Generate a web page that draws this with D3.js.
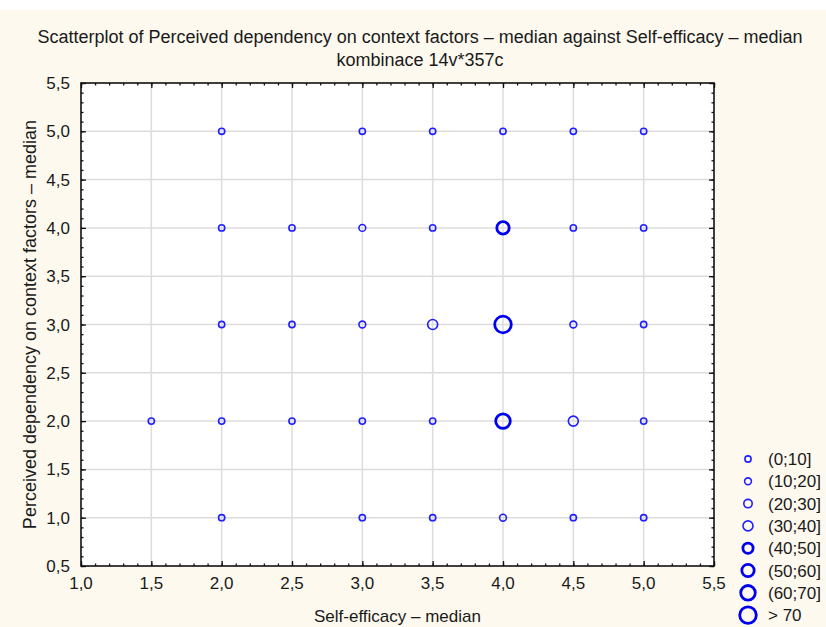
<!DOCTYPE html>
<html>
<head>
<meta charset="utf-8">
<script src="https://cdn.jsdelivr.net/npm/d3@7"></script>
<style>
  body { margin: 0; background: #fff; }
  text { font-family: "Liberation Sans", Arial, sans-serif; fill: #1a1a1a; }
</style>
</head>
<body>
<div id="chart"></div>
<script>
// data: one point per (self-efficacy, dependency) combination, with count
var selfEff = [2, 3, 3.5, 4, 4.5, 5,
               2, 2.5, 3, 3.5, 4, 4.5, 5,
               2, 2.5, 3, 3.5, 4, 4.5, 5,
               1.5, 2, 2.5, 3, 3.5, 4, 4.5, 5,
               2, 3, 3.5, 4, 4.5, 5];
var dependency = [5, 5, 5, 5, 5, 5,
                  4, 4, 4, 4, 4, 4, 4,
                  3, 3, 3, 3, 3, 3, 3,
                  2, 2, 2, 2, 2, 2, 2, 2,
                  1, 1, 1, 1, 1, 1];
var counts = [1, 2, 2, 3, 2, 2,
              2, 1, 12, 3, 53, 4, 2,
              2, 2, 13, 33, 74, 15, 3,
              1, 2, 1, 3, 2, 64, 34, 2,
              1, 1, 1, 12, 1, 1];
var legendLabels = ["(0;10]", "(10;20]", "(20;30]", "(30;40]", "(40;50]", "(50;60]", "(60;70]", "> 70"];
var xTicks = [1, 1.5, 2, 2.5, 3, 3.5, 4, 4.5, 5, 5.5];
var yTicks = [0.5, 1, 1.5, 2, 2.5, 3, 3.5, 4, 4.5, 5, 5.5];

var svgWidth = 826;
var svgHeight = 627;
var margin = { top: 83, right: 112, bottom: 61, left: 81 };
var width = svgWidth - margin.left - margin.right;
var height = svgHeight - margin.top - margin.bottom;

var svg = d3.select("#chart").append("svg")
  .attr("width", svgWidth)
  .attr("height", svgHeight);

// cream background below a thin white strip
svg.append("rect")
  .attr("x", 0).attr("y", 10)
  .attr("width", svgWidth).attr("height", svgHeight - 10)
  .attr("fill", "#fdf9ee");

var chartGroup = svg.append("g")
  .attr("transform", `translate(${margin.left}, ${margin.top})`);

var x = d3.scaleLinear().domain([1, 5.5]).range([0, width]);
var y = d3.scaleLinear().domain([0.5, 5.5]).range([height, 0]);

chartGroup.append("rect")
  .attr("width", width).attr("height", height)
  .attr("fill", "#fff");

// grid
chartGroup.selectAll(".vgrid").data(xTicks.slice(1, -1)).enter()
  .append("line")
  .attr("x1", d => x(d)).attr("x2", d => x(d))
  .attr("y1", 0).attr("y2", height)
  .attr("stroke", "#dcdcdc").attr("stroke-width", 1.5);
chartGroup.selectAll(".hgrid").data(yTicks.slice(1, -1)).enter()
  .append("line")
  .attr("y1", d => y(d)).attr("y2", d => y(d))
  .attr("x1", 0).attr("x2", width)
  .attr("stroke", "#dcdcdc").attr("stroke-width", 1.5);

// axes with ticks pointing inward
var minorX = d3.range(10, 56).map(d => d / 10);
var minorY = d3.range(5, 56).map(d => d / 10);

function tickAxis(axisFn, scale, vals, len, pos) {
  var g = chartGroup.append("g").attr("transform", pos)
    .call(axisFn(scale).tickValues(vals).tickSize(-len).tickFormat(""));
  g.select(".domain").remove();
  g.selectAll("line").attr("stroke", "#111").attr("stroke-width", 1.3);
  return g;
}
tickAxis(d3.axisBottom, x, minorX, 2.5, `translate(0,${height})`);
tickAxis(d3.axisBottom, x, xTicks, 5, `translate(0,${height})`);
tickAxis(d3.axisTop, x, minorX, 2.5, "translate(0,0)");
tickAxis(d3.axisTop, x, xTicks, 5, "translate(0,0)");
tickAxis(d3.axisLeft, y, minorY, 2.5, "translate(0,0)");
tickAxis(d3.axisLeft, y, yTicks, 5, "translate(0,0)");
tickAxis(d3.axisRight, y, minorY, 2.5, `translate(${width},0)`);
tickAxis(d3.axisRight, y, yTicks, 5, `translate(${width},0)`);

var fmt = d => d.toFixed(1).replace(".", ",");

chartGroup.selectAll(".xlab").data(xTicks).enter()
  .append("text")
  .attr("x", d => x(d)).attr("y", height + 23)
  .attr("text-anchor", "middle")
  .attr("font-size", "17px")
  .text(fmt);
chartGroup.selectAll(".ylab").data(yTicks).enter()
  .append("text")
  .attr("x", -11).attr("y", d => y(d) + 6)
  .attr("text-anchor", "end")
  .attr("font-size", "17px")
  .text(fmt);

// frame
chartGroup.append("rect")
  .attr("width", width).attr("height", height)
  .attr("fill", "none").attr("stroke", "#111").attr("stroke-width", 1.6);

// bubble sizes per count bin
var radii = [3.1, 3.4, 4.2, 5.0, 5.1, 6.2, 7.3, 8.3];
var strokes = [1.6, 1.6, 1.6, 1.6, 2.8, 2.8, 2.8, 2.8];
function bin(c) { return Math.min(7, Math.ceil(c / 10) - 1); }

var points = counts.map((c, i) => ({ x: selfEff[i], y: dependency[i], c: c }));

chartGroup.selectAll(".pt").data(points).enter()
  .append("circle")
  .attr("cx", d => x(d.x))
  .attr("cy", d => y(d.y))
  .attr("r", d => radii[bin(d.c)])
  .attr("fill", "none")
  .attr("stroke", d => bin(d.c) >= 4 ? "#0000f0" : "#2020ff")
  .attr("stroke-width", d => strokes[bin(d.c)]);

// titles
svg.append("text")
  .attr("x", 420).attr("y", 43)
  .attr("text-anchor", "middle").attr("font-size", "18px")
  .text("Scatterplot of Perceived dependency on context factors \u2013 median against Self-efficacy \u2013 median");
svg.append("text")
  .attr("x", 420).attr("y", 66)
  .attr("text-anchor", "middle").attr("font-size", "18px")
  .text("kombinace 14v*357c");

svg.append("text")
  .attr("x", margin.left + width / 2).attr("y", 622)
  .attr("text-anchor", "middle").attr("font-size", "17px")
  .text("Self-efficacy \u2013 median");

svg.append("text")
  .attr("transform", `translate(36, ${margin.top + height / 2}) rotate(-90)`)
  .attr("text-anchor", "middle").attr("font-size", "18px")
  .text("Perceived dependency on context factors \u2013 median");

// legend
var legend = svg.append("g").attr("transform", "translate(748, 459)");
var items = legend.selectAll("g").data(legendLabels).enter()
  .append("g")
  .attr("transform", (d, i) => `translate(0, ${i * 22.3})`);
items.append("circle")
  .attr("r", (d, i) => radii[i])
  .attr("fill", "none")
  .attr("stroke", (d, i) => i >= 4 ? "#0000f0" : "#2020ff")
  .attr("stroke-width", (d, i) => strokes[i]);
items.append("text")
  .attr("x", 20).attr("y", 6)
  .attr("font-size", "17px")
  .text(d => d);
</script>
</body>
</html>
